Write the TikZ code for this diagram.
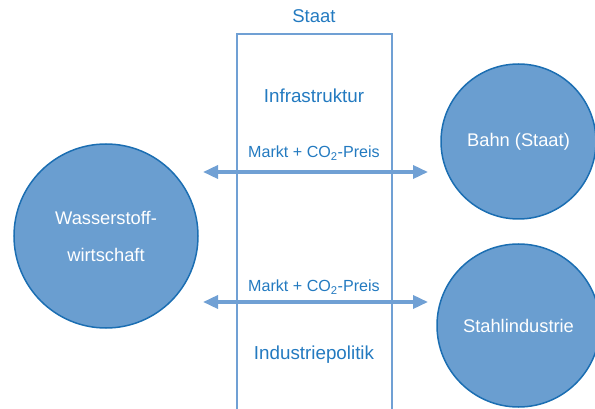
\documentclass[tikz,border=0pt]{standalone}
\usepackage{fontspec}
\setmainfont{Liberation Sans}
\usetikzlibrary{arrows.meta}

\definecolor{kreisfill}{RGB}{106,158,208}
\definecolor{kreisrand}{RGB}{27,110,178}
\definecolor{schrift}{RGB}{35,122,192}
\definecolor{linie}{RGB}{112,160,212}

\tikzset{
    kreis/.style={circle, draw=kreisrand, line width=1.5pt, fill=kreisfill, text=white,
        inner sep=0pt, align=center, font=\fontsize{18.3}{37}\selectfont},
    beschrift/.style={text=schrift, font=\fontsize{18.8}{21}\selectfont},
    preis/.style={text=schrift, font=\fontsize{16.1}{19}\selectfont},
    doppelpfeil/.style={linie, line width=3.5pt, {Triangle[length=15pt,width=13pt]}-{Triangle[length=15pt,width=13pt]}}
}

\begin{document}
\begin{tikzpicture}[x=1pt, y=-1pt]
                \useasboundingbox (0,0) rectangle (595,409);
                % Staat (offener Kasten)
                \coordinate (sl) at (236.5,409);
                \coordinate (sr) at (392,409);
                \draw[linie, line width=2pt] (sl) |- (392,34) -- (sr);
                \node[beschrift, font=\fontsize{18.5}{21}\selectfont] (staat) at (314,16) {Staat};
                \node[beschrift] (infra) at (314,96) {Infrastruktur};
                \node[beschrift] (indus) at (314,355) {Industriepolitik};
                
                % Akteure
                \node[kreis, minimum size=184pt] (wasser) at (106,236) {Wasserstoff-\\wirtschaft};
                \node[kreis, minimum size=155pt] (bahn) at (518.5,141.5) {Bahn (Staat)};
                \node[kreis, minimum size=163pt] (stahl) at (518.5,325.5) {Stahlindustrie};
                
                % Markt + CO2-Preis
                \coordinate (o1) at (203,172);
                \coordinate (o2) at (428,172);
                \coordinate (u1) at (203,302);
                \coordinate (u2) at (428,302);
                \draw[doppelpfeil] (o1) -- (o2);
                \draw[doppelpfeil] (u1) -- (u2);
                \node[preis] (preisoben) at (314,153) {Markt + CO\textsubscript{2}-Preis};
                \node[preis] (preisunten) at (314,287) {Markt + CO\textsubscript{2}-Preis};
            \end{tikzpicture}
\end{document}
